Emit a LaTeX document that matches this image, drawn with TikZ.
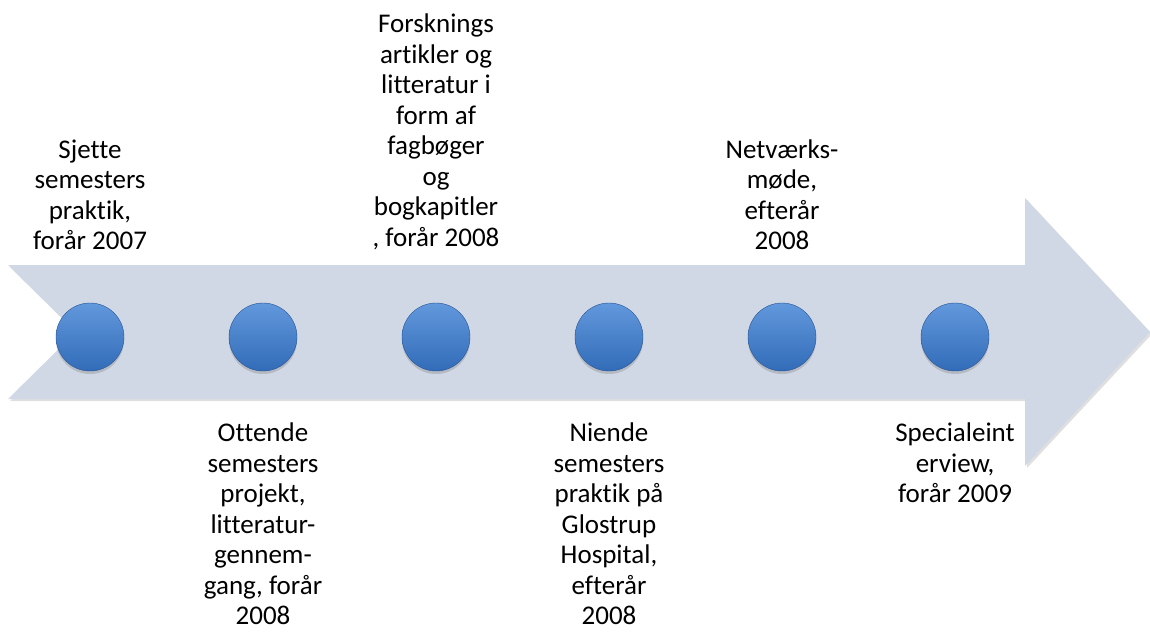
\documentclass[tikz,border=0pt]{standalone}
\usepackage{fontspec}
\setmainfont{Carlito}[Ligatures=CommonOff]
\usepackage{tikz}
\usetikzlibrary{shadows}
\definecolor{arrowfill}{RGB}{208,216,230}
\definecolor{balltop}{RGB}{98,152,220}
\definecolor{ballbottom}{RGB}{50,108,184}
\definecolor{ballrim}{RGB}{38,84,150}
\tikzstyle{ball} = [circle, minimum size=68pt, inner sep=0, draw=ballrim, thin,
    top color=balltop, bottom color=ballbottom,
    drop shadow={shadow xshift=0pt, shadow yshift=-3pt, opacity=0.35}]
\tikzstyle{toplabel} = [anchor=south, align=center, inner sep=0,
    font=\fontsize{27}{30.5}\selectfont]
\tikzstyle{bottomlabel} = [anchor=north, align=center, inner sep=0,
    font=\fontsize{27}{30.5}\selectfont]

\begin{document}
\begin{tikzpicture}[x=1pt, y=-1pt]
    \useasboundingbox (0,0) rectangle (1150,632);
    % big arrow
    \fill[arrowfill, drop shadow={shadow xshift=2pt, shadow yshift=-2pt, opacity=0.25}]
        (8,265) -- (1025,265) -- (1025,198) -- (1150,332) -- (1025,466)
        -- (1025,399) -- (8,399) -- (76,332) -- cycle;
    % milestones
    \node[ball] (b1) at (90,337) {};
    \node[ball] (b2) at (263,337) {};
    \node[ball] (b3) at (436,337) {};
    \node[ball] (b4) at (609,337) {};
    \node[ball] (b5) at (782,337) {};
    \node[ball] (b6) at (955,337) {};
    % labels
    \node[toplabel] (t1) at (90,250) {Sjette\\semesters\\praktik,\\forår 2007};
    \node[bottomlabel] (t2) at (263,423) {Ottende\\semesters\\projekt,\\litteratur-\\gennem-\\gang, forår\\2008};
    \node[toplabel] (t3) at (436,250) {Forsknings\\artikler og\\litteratur i\\form af\\fagbøger\\og\\bogkapitler\\, forår 2008};
    \node[bottomlabel] (t4) at (609,423) {Niende\\semesters\\praktik på\\Glostrup\\Hospital,\\efterår\\2008};
    \node[toplabel] (t5) at (782,250) {Netværks-\\møde,\\efterår\\2008};
    \node[bottomlabel] (t6) at (955,423) {Specialeint\\erview,\\forår 2009};
\end{tikzpicture}
\end{document}
